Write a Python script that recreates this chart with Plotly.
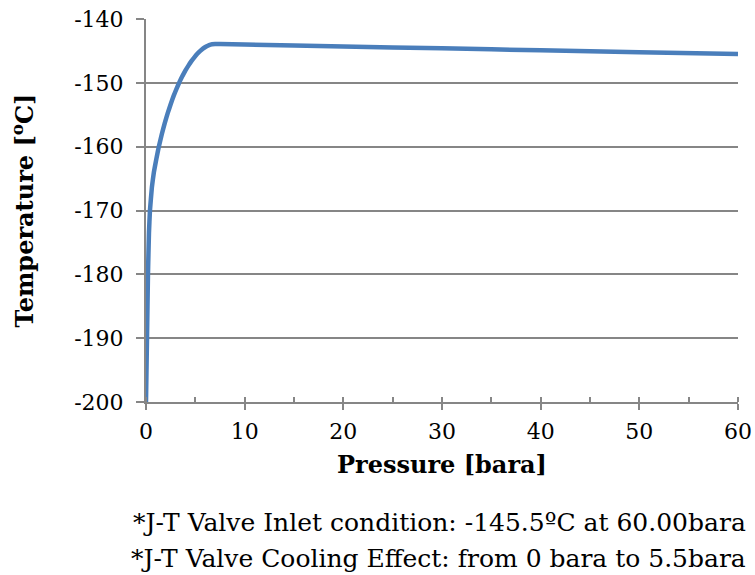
import plotly.graph_objects as go

# J-T valve expansion path: pressure (bara) vs temperature (°C)
pressure = [0.0, 0.05, 0.1, 0.15, 0.2, 0.3, 0.4, 0.6, 0.8, 1.05, 1.3, 1.6,
            1.9, 2.2, 2.5, 2.8, 3.1, 3.4, 3.7, 4.0, 4.3, 4.6, 4.9, 5.2,
            5.5, 5.8, 6.1, 6.4, 6.7, 7.0, 7.5, 10, 20, 30, 40, 50, 60]
temperature = [-200, -195, -190, -185, -180, -173.5, -170, -166.3, -164,
               -161.9, -160, -158.05, -156.3, -154.75, -153.35, -152.05,
               -150.9, -149.85, -148.9, -148.05, -147.3, -146.6, -146.0,
               -145.45, -145.0, -144.6, -144.3, -144.08, -143.96, -143.92,
               -143.93, -144.0, -144.3, -144.6, -144.9, -145.2, -145.5]

x_ticks = [0, 10, 20, 30, 40, 50, 60]
y_ticks = [-200, -190, -180, -170, -160, -150, -140]

notes = [
    "*J-T Valve Inlet condition: -145.5ºC at 60.00bara",
    "*J-T Valve Cooling Effect: from 0 bara to 5.5bara",
]

FONT = "DejaVu Serif"
GRID = "#868686"

fig = go.Figure()
fig.add_trace(go.Scatter(
    x=pressure, y=temperature, mode="lines",
    line=dict(color="#4a7ebb", width=4.5, shape="spline", smoothing=0.3),
    showlegend=False, hoverinfo="skip",
))

fig.update_layout(
    width=755, height=575,
    margin=dict(l=146, r=17, t=19, b=173, autoexpand=False),
    paper_bgcolor="white", plot_bgcolor="white",
    font=dict(family=FONT, color="black", size=22),
)
fig.update_xaxes(
    range=[0, 60], tickvals=x_ticks, ticktext=[str(v) for v in x_ticks],
    showgrid=False, zeroline=False, automargin=False,
    showline=True, linecolor=GRID, linewidth=2,
    ticks="outside", ticklen=6, tickwidth=1.5, tickcolor=GRID,
    ticklabelstandoff=3,
    minor=dict(dtick=5, ticks="inside", ticklen=5, tickwidth=1.5,
               tickcolor=GRID, showgrid=False),
    tickfont=dict(size=22),
    title=dict(text="<b>Pressure [bara]</b>", font=dict(size=24), standoff=13),
)
fig.update_yaxes(
    range=[-200, -140], tickvals=y_ticks, ticktext=[str(v) for v in y_ticks],
    showgrid=True, gridcolor=GRID, gridwidth=1.5, zeroline=False,
    automargin=False,
    showline=True, linecolor=GRID, linewidth=2,
    ticks="outside", ticklen=8, tickwidth=1.5, tickcolor=GRID,
    ticklabelstandoff=8,
    tickfont=dict(size=22),
    title=dict(text="<b>Temperature [<sup>o</sup>C]</b>", font=dict(size=24),
               standoff=34),
)

for i, note in enumerate(notes):
    fig.add_annotation(
        text=note, xref="paper", yref="paper", x=1.017, y=0,
        xanchor="right", yanchor="middle", yshift=-120 - 36 * i,
        showarrow=False, font=dict(family=FONT, size=25),
    )

fig.write_html("out.html")
